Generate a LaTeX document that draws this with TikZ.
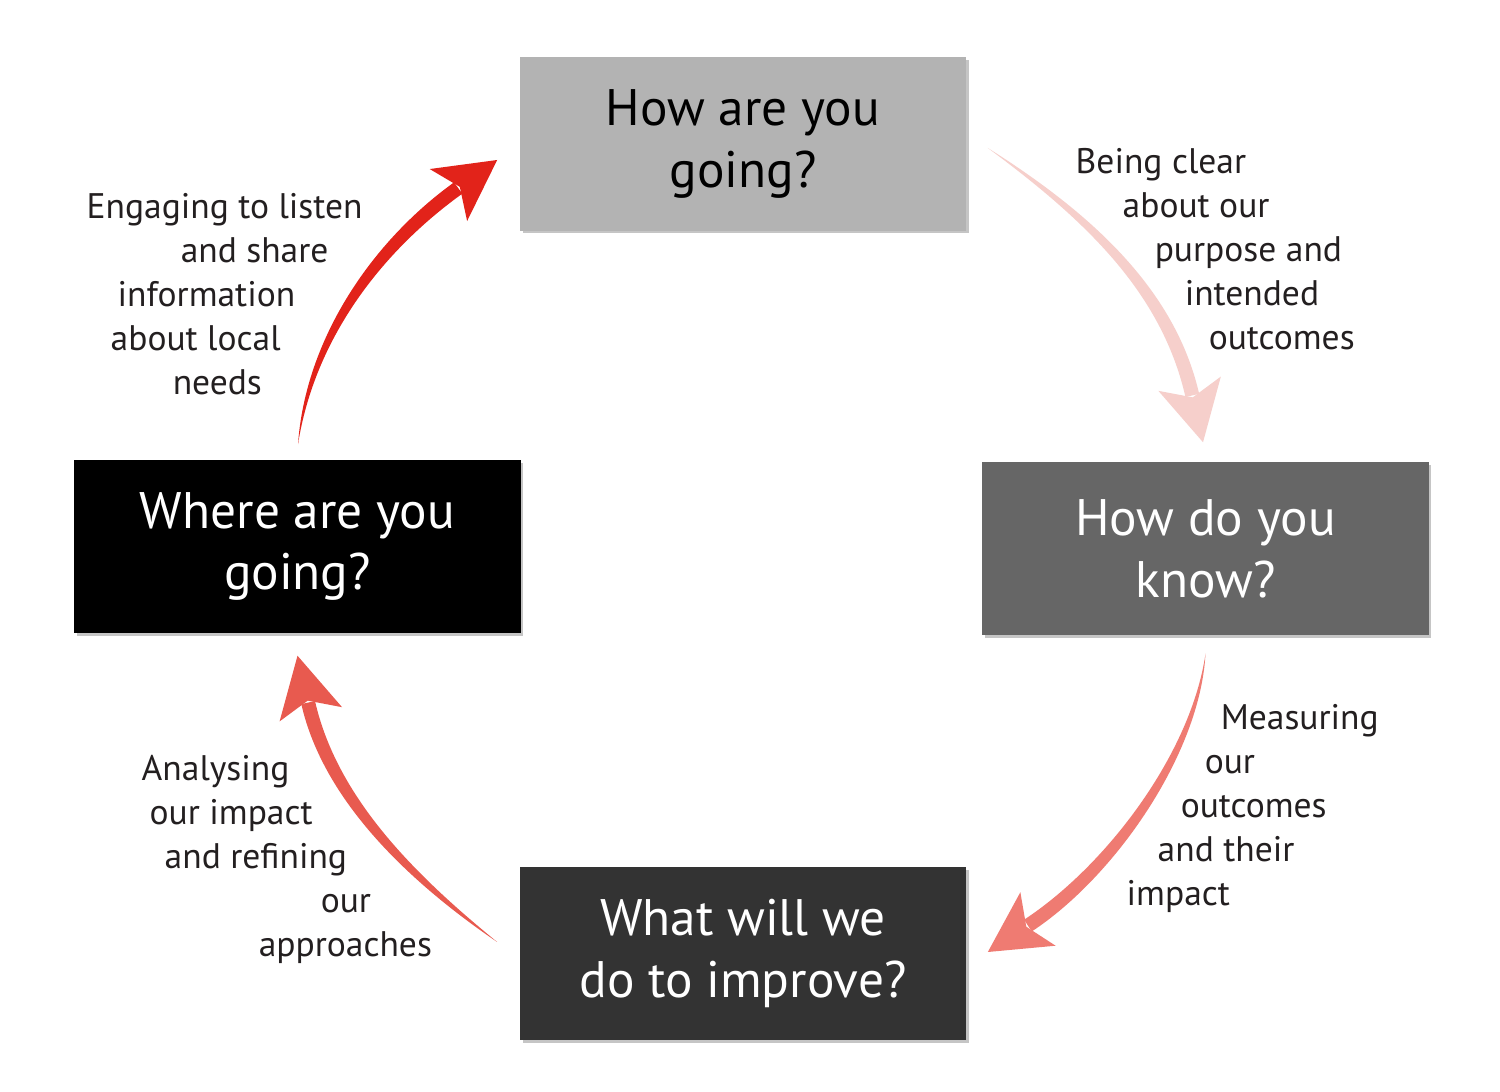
\documentclass[tikz,border=0pt]{standalone}
\usepackage{fontspec}
\setmainfont{PT Sans}
\usepackage{tikz}
\usetikzlibrary{calc,shadows}

\definecolor{boxlight}{HTML}{B3B3B3}
\definecolor{boxmid}{HTML}{666666}
\definecolor{boxdark}{HTML}{333333}
\definecolor{arrowone}{HTML}{E2231A}
\definecolor{arrowtwo}{HTML}{F6CFCB}
\definecolor{arrowthree}{HTML}{EF7B72}
\definecolor{arrowfour}{HTML}{E85A4F}
\definecolor{labelgrey}{HTML}{231F20}

% tapered arrow: colour, tail, control 1, control 2, tip
\newcommand{\cyclearrow}[5]{%
  \path #2 coordinate (aT) #3 coordinate (aA) #4 coordinate (aB) #5 coordinate (aP);
  \path ($(aP)!4.8mm!(aB)$) coordinate (aN) ($(aP)!6mm!(aB)$) coordinate (aM);
  \fill[#1] (aT) .. controls ($(aA)!0.45mm!-90:(aT)$) and ($(aB)!0.7mm!90:(aN)$) .. ($(aN)!0.7mm!90:(aP)$)
    -- ($(aN)!0.7mm!-90:(aP)$) .. controls ($(aB)!0.7mm!-90:(aN)$) and ($(aA)!0.45mm!90:(aT)$) .. (aT) -- cycle;
  \fill[#1] (aP) -- ($(aM)!3.2mm!90:(aP)$) -- ($(aP)!4.6mm!(aM)$) -- ($(aM)!3.2mm!-90:(aP)$) -- cycle;
}

\tikzset{
  stagebox/.style={rectangle, minimum width=4.46cm, minimum height=1.73cm, inner sep=0pt,
    align=center, font=\fontsize{14.6}{17.6}\selectfont,
    drop shadow={shadow xshift=0.8pt, shadow yshift=-0.8pt, opacity=0.45}},
  steplabel/.style={anchor=base west, inner sep=0pt, align=left, text=labelgrey,
    font=\fontsize{10.1}{12.56}\selectfont}
}

\begin{document}
\begin{tikzpicture}[x=0.01cm, y=-0.01cm]
  \useasboundingbox[fill=white] (0,0) rectangle (1500,1092);

  % the four questions
  \node[stagebox, fill=boxlight, text=black] (howgoing) at (743,144) {How are you\\going?};
  \node[stagebox, fill=boxmid, text=white] (howknow) at (1205.5,548.5) {How do you\\know?};
  \node[stagebox, fill=boxdark, text=white] (improve) at (743,953.5) {What will we\\do to improve?};
  \node[stagebox, fill=black, text=white] (wheregoing) at (297.5,546.5) {Where are you\\going?};

  % arrow ends
  \coordinate (tailone) at ($(wheregoing.north)+(0.5,-15)$);
  \coordinate (tipone) at ($(howgoing.west)+(-22,16)$);
  \coordinate (tailtwo) at ($(howgoing.east)+(21,4)$);
  \coordinate (tiptwo) at ($(howknow.north)+(-2.5,-19)$);
  \coordinate (tailthree) at ($(howknow.south)+(0,18)$);
  \coordinate (tipthree) at ($(improve.east)+(21,-1.5)$);
  \coordinate (tailfour) at ($(improve.west)+(-22,-11.5)$);
  \coordinate (tipfour) at ($(wheregoing.south)+(0,22)$);

  \cyclearrow{arrowone}{(tailone)}{($(tailone)+(12,-105)$)}{($(tipone)+(-121,87)$)}{(tipone)}
  \cyclearrow{arrowtwo}{(tailtwo)}{($(tailtwo)+(98,67)$)}{($(tiptwo)+(-35,-153)$)}{(tiptwo)}
  \cyclearrow{arrowthree}{(tailthree)}{($(tailthree)+(-10,100)$)}{($(tipthree)+(123,-81)$)}{(tipthree)}
  \cyclearrow{arrowfour}{(tailfour)}{($(tailfour)+(-83,-62)$)}{($(tipfour)+(33,145)$)}{(tipfour)}

  % step texts (anchored at the baseline of their last line)
  \node[steplabel] (engaging) at (86,395) {Engaging to listen\\\hspace*{9.4mm}and share\\\hspace*{3.1mm}information\\\hspace*{2.4mm}about local\\\hspace*{8.6mm}needs};
  \node[steplabel] (beingclear) at (1075,350) {Being clear\\\hspace*{4.7mm}about our\\\hspace*{7.9mm}purpose and\\\hspace*{10.9mm}intended\\\hspace*{13.3mm}outcomes};
  \node[steplabel] (measuring) at (1126,906) {\hspace*{9.4mm}Measuring\\\hspace*{7.8mm}our\\\hspace*{5.4mm}outcomes\\\hspace*{3.1mm}and their\\impact};
  \node[steplabel] (analysing) at (141,957) {Analysing\\\hspace*{0.8mm}our impact\\\hspace*{2.3mm}and refining\\\hspace*{17.9mm}our\\\hspace*{11.7mm}approaches};
\end{tikzpicture}
\end{document}
